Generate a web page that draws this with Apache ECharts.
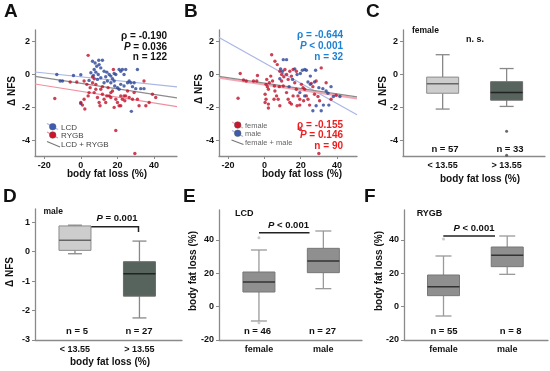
<!DOCTYPE html>
<html><head><meta charset="utf-8">
<script src="https://cdn.jsdelivr.net/npm/echarts@6/dist/echarts.min.js"></script>
<style>html,body{margin:0;padding:0;background:#fff}#c{width:550px;height:371px}</style>
</head><body><div id="c"></div>
<script>
// ---------- DATA ----------
const lcdPoints = [[-13.1,0.0],[-11.3,-0.4],[-10.0,-0.4],[-4.0,-0.06],[0.0,-0.02],[4.5,-0.36],[6.4,0.8],[7.8,0.7],[7.3,0.3],[8.2,0.14],[9.8,0.86],[11.8,0.86],[8.7,0.5],[10.0,0.6],[10.9,0.4],[12.7,0.2],[14.2,0.14],[15.5,0],[16.4,-0.1],[18.2,0.06],[19.1,0],[20.9,0.3],[21.8,0.2],[22.7,0.3],[23.6,0],[24.5,0.3],[10.9,-0.2],[9.1,-0.3],[12.7,-0.5],[14.5,-0.4],[16.4,-0.5],[18.2,-0.4],[20.0,-0.8],[21.8,-0.6],[23.6,-0.7],[25.5,-0.5],[26.4,-0.4],[27.3,-0.5],[29.1,-0.5],[30.0,-0.86],[32.7,-0.86],[30.9,0.3],[34.5,-0.86],[27.6,-2.24],[0,-1.76],[5.5,0.1],[6.9,-0.06],[9.5,0],[13.6,-0.14],[17.3,-0.26],[18.5,-0.7],[20.9,-0.9],[28.2,-0.74]];
const rygbPoints = [[4.0,1.16],[-14.2,-1.46],[-5.8,-0.46],[0,-1.7],[0.9,-1.86],[1.8,-1.5],[2.2,-2.1],[4.0,-1.3],[5.1,-0.8],[6.4,-0.5],[7.3,-1.1],[8.2,-0.9],[9.1,-1.4],[10.0,-1.7],[10.5,-1.9],[11.8,-1.2],[12.7,-1.5],[13.6,-1.7],[14.2,-1.3],[14.9,-0.8],[16.4,-1.1],[17.3,-1.0],[17.8,0.3],[19.1,-1.5],[20.0,-1.7],[20.9,-1.9],[21.8,-1.9],[22.7,-1.5],[23.6,-1.3],[24.5,-1.3],[25.5,-1.0],[26.4,-1.4],[28.2,-1.5],[29.1,-1.1],[30.9,-1.5],[31.8,-1.9],[34.5,-0.4],[35.5,-1.9],[37.3,-1.7],[39.1,-1.2],[40.9,-1.4],[19.1,-3.4],[29.5,-4.8],[10.9,-0.9],[8.2,-0.6],[7.3,-0.26],[6.4,-0.14],[4.5,-1.1],[3.3,-0.6],[11.8,-0.74],[15.5,-1.3],[18.2,-2.0],[-2.2,-0.46],[16.4,-1.4],[21.8,-1.3],[24,-1.6],[1.8,-0.4]];
const femalePoints = [[-13.3,0.06],[-14.5,-1.44],[-11.5,-0.34],[-10.0,-0.4],[-3.8,-0.06],[-6.0,-0.4],[1.3,-0.3],[0.9,-0.6],[1.6,-0.74],[2.2,-0.9],[0.4,-1.2],[0.9,-1.5],[0.4,-1.7],[2.2,-1.8],[2.2,-2.04],[4.0,1.2],[3.5,-0.1],[4.5,-0.4],[5.8,0.8],[7.1,0.6],[5.5,-0.7],[5.8,-1.0],[6.7,-1.3],[7.6,-1.5],[8.5,-1.9],[8.5,0.2],[9.5,0],[9.5,-0.4],[10.4,-0.7],[11.3,0.3],[12.2,0],[13.1,-0.3],[12.2,-1.1],[13.1,-1.5],[14.0,-1.7],[14.9,-1.8],[14.0,0.2],[14.9,-0.1],[15.8,0.3],[16.7,-0.5],[17.6,0.2],[17.6,-0.9],[18.5,-1.3],[19.5,-1.5],[19.5,-1.86],[19.8,-3.34],[20.4,-0.6],[21.3,-0.8],[22.2,-0.9],[23.1,-1.3],[24.0,-1.5],[25.8,-0.54],[26.7,-0.74],[28.5,-0.4],[27.6,-1.2],[29.5,-1.34],[30.4,-1.6],[31.3,0.4],[39.5,-1.26],[30.0,-4.8],[34,-0.5],[10.7,-0.14],[8.2,-0.74],[5.3,-1.5],[15.8,-1.3],[18,-1.9],[24.9,-1.86],[21.6,-1.6],[36.7,-1.5],[-4.2,-0.4],[2.7,-0.5]];
const malePoints = [[10.4,0.9],[12.2,0.9],[8.9,0.34],[10.0,0.2],[16.7,0.34],[20.9,0.26],[22.2,0.3],[23.1,0.26],[19.8,0.06],[24,-0.46],[25.3,-0.6],[27.6,-0.46],[30,-0.8],[32.2,-0.86],[34,-1.0],[38,-1.34],[41.6,-1.34],[26.7,-2.2],[28.5,-1.9],[31.3,-2.2],[32.5,-1.86],[35.5,-1.86],[22.2,-1.3],[19.5,-1.1],[18,0],[15.5,-0.3],[25.3,-0.1],[28.2,0.26],[8.5,-0.26],[13.6,-0.74],[36.7,-0.74],[35,-1.14]];
const fitA_LCD = [[-25,0.15],[52.5,-0.75]];
const fitA_RYGB = [[-25,-0.58],[52.5,-1.95]];
const fitA_All = [[-25,-0.12],[52.5,-1.42]];
const fitB_male = [[-25,2.25],[51,-2.45]];
const fitB_female = [[-25,-0.2],[51,-1.46]];
const fitB_all = [[-25,-0.12],[51,-1.36]];
const catsCD = ['< 13.55','> 13.55'];
const catsEF = ['female','male'];
// [position, min, Q1, median, Q3, max]
const boxC = [[0,-2.1,-1.14,-0.56,-0.16,1.2],[1,-1.94,-1.56,-1.1,-0.44,0.36]];
const outC = [[1,-3.44],[1,-4.9]];
const boxD = [[0,-0.07,0.045,0.39,0.875,0.9],[1,-2.25,-1.51,-0.75,-0.34,0.36]];
const boxE = [[0,-8.6,8.8,14.8,20.8,34],[1,10.8,20.4,27.4,35,45.4]];
const outE = [[0,41.4],[0,-9.6]];
const boxF = [[0,-5.6,6.6,12,19,30.4],[1,19.4,24,30.8,35.8,42.4]];
const outF = [[0,40.6]];
const nfsTicks = [-4,-2,0,2];
const fatTicks = [-20,0,20,40];
const dTicks = [-3,-2,-1,0,1];
const efTicks = [-20,0,20,40];
const catTicks = [0,1];

// ---------- STYLE ----------
const FF = '"Liberation Sans", Arial, sans-serif';
const AX = '#8a8a8a';
const BLUE = '#2a4596', RED = '#c0122a';
const bf = (s) => 'bold ' + s + 'px ' + FF;

function vAxis(gi, min, max, ticks, fmt) {
  return {
    type: 'value', gridIndex: gi, min: min, max: max,
    splitLine: {show: false},
    axisLine: {show: true, onZero: false, lineStyle: {color: AX, width: 1.3}},
    axisTick: {show: true, length: 3, customValues: ticks, lineStyle: {color: AX}},
    axisLabel: {customValues: ticks, color: '#111', fontSize: 9, fontWeight: 'bold', fontFamily: FF, margin: 5,
      formatter: fmt || (v => String(v))}
  };
}
const catFmt = (cats) => (v) => cats[Math.round(v)];

const grids = [
  {left: 35, top: 30, width: 142, height: 126},
  {left: 219, top: 30, width: 138, height: 126},
  {left: 403, top: 30, width: 142, height: 126},
  {left: 35, top: 209, width: 147, height: 131},
  {left: 219, top: 210, width: 143, height: 130},
  {left: 404, top: 210, width: 144, height: 130}
];
const xAxes = [
  vAxis(0, -25, 52.5, fatTicks),
  vAxis(1, -25, 51, fatTicks),
  Object.assign(vAxis(2, -0.62, 1.6, catTicks, catFmt(catsCD)), {axisTick: {show: false}}),
  Object.assign(vAxis(3, -0.62, 1.66, catTicks, catFmt(catsCD)), {axisTick: {show: false}}),
  Object.assign(vAxis(4, -0.62, 1.6, catTicks, catFmt(catsEF)), {axisTick: {show: false}}),
  Object.assign(vAxis(5, -0.62, 1.64, catTicks, catFmt(catsEF)), {axisTick: {show: false}})
];
const yAxes = [
  vAxis(0, -4.95, 2.7, nfsTicks),
  vAxis(1, -4.95, 2.7, nfsTicks),
  vAxis(2, -4.95, 2.7, nfsTicks),
  vAxis(3, -3, 1.45, dTicks),
  vAxis(4, -20, 58, efTicks),
  vAxis(5, -20, 58, efTicks)
];

function boxRenderer(styles) {
  return function (params, api) {
    const p = api.value(0);
    const c = v => api.coord([p, v]);
    const lo = c(api.value(1)), q1 = c(api.value(2)), md = c(api.value(3)), q3 = c(api.value(4)), hi = c(api.value(5));
    const x = lo[0], hw = 16, cw = styles.cap;
    const s = styles.items[params.dataIndex];
    const wl = {stroke: s.whisker, lineWidth: 1.3};
    return {type: 'group', children: [
      {type: 'line', shape: {x1: x, y1: hi[1], x2: x, y2: q3[1]}, style: wl},
      {type: 'line', shape: {x1: x, y1: q1[1], x2: x, y2: lo[1]}, style: wl},
      {type: 'line', shape: {x1: x - cw, y1: hi[1], x2: x + cw, y2: hi[1]}, style: wl},
      {type: 'line', shape: {x1: x - cw, y1: lo[1], x2: x + cw, y2: lo[1]}, style: wl},
      {type: 'rect', shape: {x: x - hw, y: q3[1], width: 2 * hw, height: q1[1] - q3[1]}, style: {fill: s.fill, stroke: s.border, lineWidth: 1}},
      {type: 'line', shape: {x1: x - hw, y1: md[1], x2: x + hw, y2: md[1]}, style: {stroke: s.median, lineWidth: 1.5}}
    ]};
  };
}
const twoTone = {cap: 7, items: [
  {fill: '#cdcdcd', border: '#8c8c8c', median: '#666', whisker: '#888'},
  {fill: '#57645d', border: '#6b6b6b', median: '#222', whisker: '#888'}
]};
const grayBox = {cap: 8, items: [
  {fill: '#8f8f8f', border: '#777', median: '#333', whisker: '#9a9a9a'},
  {fill: '#8f8f8f', border: '#777', median: '#333', whisker: '#9a9a9a'}
]};
function boxSeries(gi, data, st) {
  return {type: 'custom', xAxisIndex: gi, yAxisIndex: gi, data: data, renderItem: boxRenderer(st),
    encode: {x: 0, y: [1, 2, 3, 4, 5]}, silent: true, z: 2};
}
function fitLine(gi, data, color, w) {
  return {type: 'line', xAxisIndex: gi, yAxisIndex: gi, data: data, showSymbol: false, silent: true,
    lineStyle: {color: color, width: w}, z: 1};
}
function scat(gi, data, color, size) {
  return {type: 'scatter', xAxisIndex: gi, yAxisIndex: gi, data: data, symbol: 'circle', symbolSize: size || 3.4,
    itemStyle: {color: color, borderColor: color, borderWidth: 0}, silent: true, z: 3};
}

const series = [
  fitLine(0, fitA_LCD, '#a9b6e6', 1.2),
  fitLine(0, fitA_RYGB, '#f0909f', 1.2),
  fitLine(0, fitA_All, '#8c8c8c', 1.2),
  scat(0, lcdPoints, BLUE),
  scat(0, rygbPoints, RED),
  fitLine(1, fitB_male, '#a9b6e6', 1.2),
  fitLine(1, fitB_female, '#f4a6b4', 2),
  fitLine(1, fitB_all, '#8c8c8c', 1.3),
  scat(1, femalePoints, RED),
  scat(1, malePoints, BLUE),
  boxSeries(2, boxC, twoTone),
  scat(2, outC, '#444', 3),
  boxSeries(3, boxD, twoTone),
  boxSeries(4, boxE, grayBox),
  scat(4, outE, '#bdbdbd', 3),
  boxSeries(5, boxF, grayBox),
  scat(5, outF, '#bdbdbd', 3)
];

// ---------- ANNOTATIONS ----------
const G = [];
function T(x, y, text, o) {
  o = o || {};
  const st = {text: text, font: o.font || bf(9.5), fill: o.fill || '#111',
    align: o.align || 'center', textAlign: o.align || 'center',
    verticalAlign: o.va || 'middle', textVerticalAlign: o.va || 'middle'};
  if (o.rich) st.rich = o.rich;
  G.push({type: 'text', x: x, y: y, rotation: o.rot || 0, style: st, silent: true});
}
function L(x1, y1, x2, y2, stroke, w) {
  G.push({type: 'line', shape: {x1: x1, y1: y1, x2: x2, y2: y2}, style: {stroke: stroke, lineWidth: w || 1}, silent: true});
}
function C(cx, cy, r, fill) {
  G.push({type: 'circle', shape: {cx: cx, cy: cy, r: r}, style: {fill: fill, stroke: '#555', lineWidth: 0.5}, silent: true});
}
const richP = (col, sz) => ({i: {fontStyle: 'italic', fontWeight: 'bold', fontSize: sz, fontFamily: FF, fill: col}});
// Panel letters
[['A', 4, 2], ['B', 184, 2], ['C', 366, 2], ['D', 3, 187], ['E', 183, 187], ['F', 364, 187]].forEach(a =>
  T(a[1], a[2], a[0], {font: bf(19), align: 'left', va: 'top'}));
// axis titles
const rot = Math.PI / 2;
T(12, 91, 'Δ NFS', {rot: rot, font: bf(10)});
T(199, 89, 'Δ NFS', {rot: rot, font: bf(10)});
T(383, 91, 'Δ NFS', {rot: rot, font: bf(10)});
T(10, 272, 'Δ NFS', {rot: rot, font: bf(10)});
T(193, 271, 'body fat loss (%)', {rot: rot, font: bf(10)});
T(379, 271, 'body fat loss (%)', {rot: rot, font: bf(10)});
T(107, 174, 'body fat loss (%)', {font: bf(10)});
T(302, 174, 'body fat loss (%)', {font: bf(10)});
T(480, 179, 'body fat loss (%)', {font: bf(10)});
T(110, 362, 'body fat loss (%)', {font: bf(10)});
// Panel A stats
T(167, 36, 'ρ = -0.190', {align: 'right', font: bf(10)});
T(167, 47, '{i|P} = 0.036', {align: 'right', font: bf(10), rich: richP('#111', 10)});
T(167, 57.5, 'n = 122', {align: 'right', font: bf(10)});
// Panel A legend
L(47, 123.5, 58, 129.5, '#a9b6e6', 1.2); C(52.7, 126.7, 3.3, '#3b5cb0');
L(47, 132, 58, 138, '#f0909f', 1.2); C(52.7, 135, 3.3, '#d0142e');
L(47, 141.5, 60, 147, '#777', 1.2);
T(61, 127.3, 'LCD', {align: 'left', font: '8px ' + FF, fill: '#444'});
T(61, 135.7, 'RYGB', {align: 'left', font: '8px ' + FF, fill: '#444'});
T(61, 145, 'LCD + RYGB', {align: 'left', font: '8px ' + FF, fill: '#444'});
// Panel B stats
const BC = '#1e82d4', RC = '#f01c1c';
T(343, 35.7, 'ρ = -0.644', {align: 'right', font: bf(10), fill: BC});
T(343, 46.7, '{i|P} < 0.001', {align: 'right', font: bf(10), fill: BC, rich: richP(BC, 10)});
T(343, 57.3, 'n = 32', {align: 'right', font: bf(10), fill: BC});
T(343, 125, 'ρ = -0.155', {align: 'right', font: bf(10), fill: RC});
T(343, 135.7, '{i|P} = 0.146', {align: 'right', font: bf(10), fill: RC, rich: richP(RC, 10)});
T(343, 146.2, 'n = 90', {align: 'right', font: bf(10), fill: RC});
// Panel B legend
L(232, 122, 243, 128, '#f4a6b4', 1.2); C(237.7, 125, 3.3, '#d0142e');
L(232, 130.5, 243, 136.5, '#a9b6e6', 1.2); C(237.7, 133.3, 3.3, '#3b5cb0');
L(231.5, 140, 243.5, 144.5, '#777', 1.2);
T(245, 125.7, 'female', {align: 'left', font: '7.5px ' + FF, fill: '#666'});
T(245, 134, 'male', {align: 'left', font: '7.5px ' + FF, fill: '#666'});
T(245, 142.5, 'female + male', {align: 'left', font: '7.5px ' + FF, fill: '#666'});
// Panel C
T(412, 31, 'female', {align: 'left', font: bf(8.5)});
T(475, 39.5, 'n. s.', {font: bf(9)});
T(445, 149, 'n = 57', {font: bf(9.5)});
T(510, 149, 'n = 33', {font: bf(9.5)});
// Panel D
T(43.5, 211.7, 'male', {align: 'left', font: bf(8.5)});
T(117, 218.5, '{i|P} = 0.001', {font: bf(9.5), rich: richP('#111', 9.5)});
L(88, 226.7, 138.5, 226.7, '#222', 1.5); L(138.5, 226, 138.5, 232, '#222', 1.5);
T(77, 331.7, 'n = 5', {font: bf(9.5)});
T(139, 331.7, 'n = 27', {font: bf(9.5)});
// Panel E
T(235, 213.3, 'LCD', {align: 'left', font: bf(9)});
T(288.5, 225.7, '{i|P} < 0.001', {font: bf(9.5), rich: richP('#111', 9.5)});
L(259, 232.7, 309.5, 232.7, '#222', 1.5);
T(257.5, 331.7, 'n = 46', {font: bf(9.5)});
T(322.5, 331.7, 'n = 27', {font: bf(9.5)});
// Panel F
T(416.7, 213.3, 'RYGB', {align: 'left', font: bf(9)});
T(474, 228.3, '{i|P} < 0.001', {font: bf(9.5), rich: richP('#111', 9.5)});
L(443.3, 236, 495, 236, '#222', 1.5);
T(444, 331.7, 'n = 55', {font: bf(9.5)});
T(510.7, 331.7, 'n = 8', {font: bf(9.5)});

const chart = echarts.init(document.getElementById('c'), null, {renderer: 'canvas'});
chart.setOption({
  animation: false,
  backgroundColor: '#fff',
  textStyle: {fontFamily: FF},
  grid: grids, xAxis: xAxes, yAxis: yAxes, series: series,
  graphic: {elements: G}
});
</script>
</body></html>
